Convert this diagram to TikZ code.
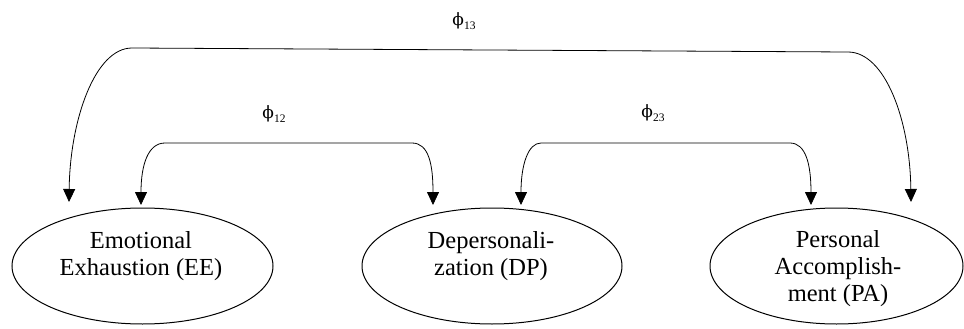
\documentclass[tikz,border=0pt]{standalone}
\usepackage{fontspec}
\setmainfont{Liberation Serif}
\newfontfamily\phifont{DejaVu Serif}
\usetikzlibrary{shapes.geometric,arrows.meta}
\newcommand\phisub[1]{{\phifont\fontsize{17}{17}\selectfont ϕ}\raisebox{-4pt}{\fontsize{11.5}{11.5}\selectfont #1}}
\begin{document}
\begin{tikzpicture}[x=1pt,y=-1pt,
  latent/.style={ellipse,draw,line width=1pt,minimum height=116pt,inner sep=0pt},
  lbl/.style={align=center,inner sep=0pt,font=\fontsize{24.5}{27}\selectfont},
  phil/.style={inner sep=0pt},
  cov/.style={line width=0.8pt,{Triangle[width=12pt,length=13pt]}-{Triangle[width=12pt,length=13pt]}}]
\useasboundingbox (0,0) rectangle (964,329);
% latent factors
\node[latent,minimum width=261pt] (ee) at (142.5,266) {};
\node[latent,minimum width=260pt] (dp) at (492,266) {};
\node[latent,minimum width=253pt] (pa) at (836.5,266) {};
\node[lbl] (eet) at (141,256) {Emotional\\Exhaustion (EE)};
\node[lbl] (dpt) at (491,256) {Depersonali-\\zation (DP)};
\node[lbl] (pat) at (838,269) {Personal\\Accomplish-\\ment (PA)};
% connector end points above the ellipses
\coordinate (a13) at (69,202);
\coordinate (b13) at (911,202);
\coordinate (c13a) at (132,48);
\coordinate (c13b) at (848,52);
\coordinate (a12) at (141,205);
\coordinate (b12) at (433,205);
\coordinate (c12a) at (165,143);
\coordinate (c12b) at (412,143);
\coordinate (a23) at (521,205);
\coordinate (b23) at (811,205);
\coordinate (c23a) at (541,143);
\coordinate (c23b) at (790,143);
% covariances
\draw[cov] (a13) .. controls (70,120) and (95,48) .. (c13a) -- (c13b) .. controls (885,52) and (910,120) .. (b13);
\draw[cov] (a12) .. controls (141,165) and (148,143) .. (c12a) -- (c12b) .. controls (429,143) and (433,165) .. (b12);
\draw[cov] (a23) .. controls (521,165) and (528,143) .. (c23a) -- (c23b) .. controls (806,143) and (811,165) .. (b23);
% labels
\node[phil] (p13) at (464,21.5) {\phisub{13}};
\node[phil] (p12) at (274,114.5) {\phisub{12}};
\node[phil] (p23) at (653,113.5) {\phisub{23}};
\end{tikzpicture}
\end{document}
